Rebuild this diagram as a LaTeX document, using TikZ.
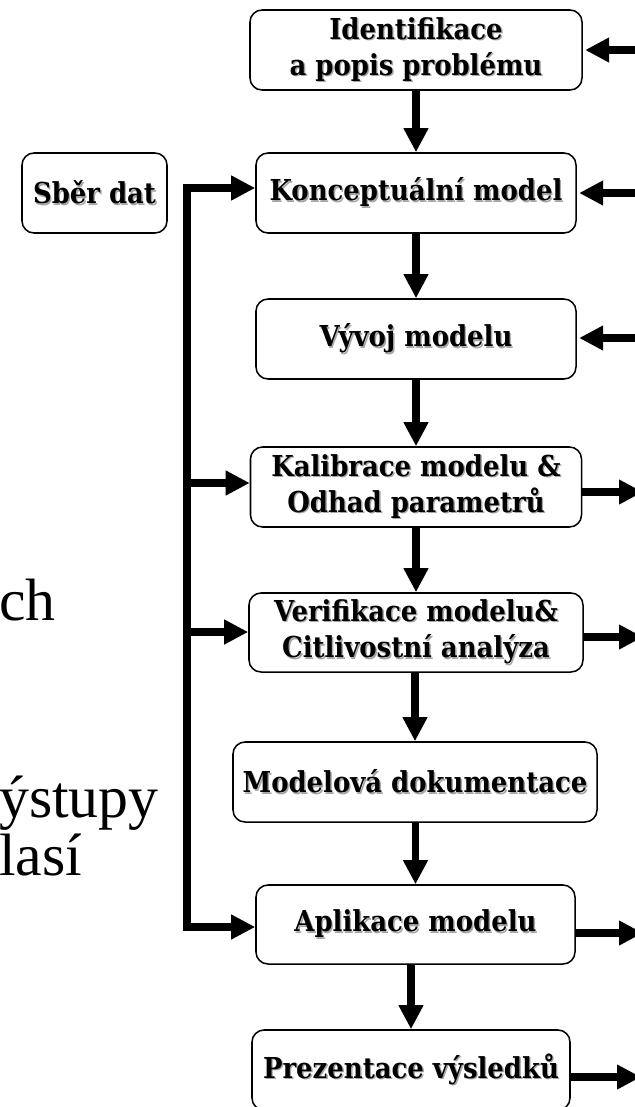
\documentclass[tikz,border=0pt]{standalone}
\usepackage{fontspec}
\setmainfont{Liberation Serif}
\newfontfamily\blokfont{DejaVu Serif Condensed}
\usetikzlibrary{arrows.meta}

\newcommand{\stxt}[1]{\makebox[0pt][l]{\kern1.2pt\raisebox{-1.2pt}{\textcolor{black!35}{#1}}}#1}

\begin{document}
\begin{tikzpicture}[x=0.03cm, y=-0.03cm,
  blok/.style={draw, rounded corners=0.36cm, line width=1.3pt, fill=white, minimum height=2.4cm, inner sep=2pt, align=center, font=\blokfont\bfseries\fontsize{24.6}{31}\selectfont},
  sipka/.style={line width=6.6pt, -{Triangle[length=0.72cm, width=0.7cm]}},
  okraj/.style={anchor=base west, inner sep=0pt, font=\fontsize{51}{56}\selectfont}]

\useasboundingbox (0,0) rectangle (634,1107);

% main chain of boxes
\node (ident) at (416,50) [blok, minimum width=9.96cm] {\stxt{Identifikace}\\\stxt{a popis problému}};
\node (konc) at (416,193) [blok, minimum width=9.6cm] {\stxt{Konceptuální model}};
\node (vyvoj) at (416,339) [blok, minimum width=9.6cm] {\stxt{Vývoj modelu}};
\node (kal) at (416,487) [blok, minimum width=9.93cm] {\stxt{Kalibrace modelu \&}\\\stxt{Odhad parametrů}};
\node (ver) at (416,632.5) [blok, minimum width=10.02cm, minimum height=2.37cm] {\stxt{Verifikace modelu\&}\\\stxt{Citlivostní analýza}};
\node (dok) at (415,782) [blok, minimum width=10.92cm] {\stxt{Modelová dokumentace}};
\node (apl) at (415.5,924.5) [blok, minimum width=9.57cm, minimum height=2.37cm] {\stxt{Aplikace modelu}};
\node (prez) at (411,1070) [blok, minimum width=9.54cm] {\stxt{Prezentace výsledků}};

\node (sber) at (94.5,193) [blok, minimum width=4.35cm] {\stxt{Sběr dat}};

% text cut at the left edge
\node (t1) at (-1,620) [okraj] {ch};
\node (t2) at (-1,817) [okraj] {ýstupy};
\node (t3) at (-1,875) [okraj] {lasí};

% arrows down the chain
\draw[sipka] (ident) -- (konc);
\draw[sipka] (konc) -- (vyvoj);
\draw[sipka] (vyvoj) -- (kal);
\draw[sipka] (kal) -- (ver);
\draw[sipka] (ver.south -| dok.north) -- (dok.north);
\draw[sipka] (dok.south -| apl.north) -- (apl.north);
\draw[sipka] (apl.south -| prez.north) -- (prez.north);

% data bus on the left
\coordinate (busT) at (187,188);
\coordinate (busB) at (187,927);
\coordinate (b4) at (187,483);
\coordinate (b5) at (187,632);
\draw[sipka] (busB) -- (busT) -- (konc.west |- busT);
\draw[sipka] (busT) -- (busB) -- (apl.west |- busB);
\draw[sipka] (b4) -- (kal.west |- b4);
\draw[sipka] (b5) -- (ver.west |- b5);

% feedback from the right
\coordinate (r1) at (660,50);
\coordinate (r2) at (660,193);
\coordinate (r3) at (660,338);
\draw[sipka, shorten >=2pt] (r1) -- (ident.east |- r1);
\draw[sipka, shorten >=2pt] (r2) -- (konc.east |- r2);
\draw[sipka, shorten >=2pt] (r3) -- (vyvoj.east |- r3);

% outputs to the right
\coordinate (o4) at (643,492);
\coordinate (o5) at (643,637);
\coordinate (o7) at (643,933);
\coordinate (o8) at (641,1077);
\draw[sipka] (kal.east |- o4) -- (o4);
\draw[sipka] (ver.east |- o5) -- (o5);
\draw[sipka] (apl.east |- o7) -- (o7);
\draw[sipka] (prez.east |- o8) -- (o8);

\end{tikzpicture}
\end{document}
